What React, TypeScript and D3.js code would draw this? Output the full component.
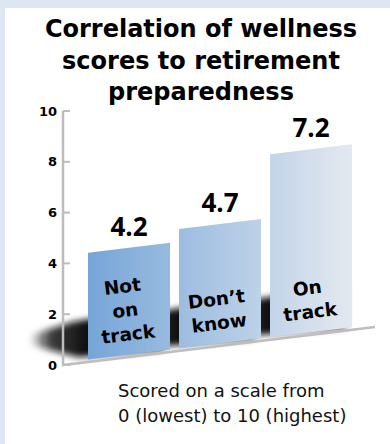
import React from "react";
import * as d3 from "d3";

const titleLines = ["Correlation of wellness", "scores to retirement", "preparedness"];
const categories = ["Not on track", "Don't know", "On track"];
const categoryLines = [["Not", "on", "track"], ["Don\u2019t", "know"], ["On", "track"]];
const values = [4.2, 4.7, 7.2];
const valueLabels = ["4.2", "4.7", "7.2"];
const yTicks = [0, 2, 4, 6, 8, 10];
const footnoteLines = ["Scored on a scale from", "0 (lowest) to 10 (highest)"];

const W = 390;
const H = 444;
const axisX = 63;
const axisY0 = 365;
const axisEndX = 375;
const slope = -0.122;

export default function App() {
  const y = d3.scaleLinear().domain([0, 10]).range([axisY0, 111]);
  const hgt = (v: number) => axisY0 - y(v);
  const x = d3.scaleBand<string>().domain(categories).range([88, 352]).paddingInner(0.0989).paddingOuter(0);
  const base = (px: number) => axisY0 + slope * (px - axisX);
  const barBase = (px: number) => base(px) - 2.5;
  const bw = x.bandwidth();
  const color = d3.interpolateRgb("#76a5d8", "#e4e9f0");

  return (
    <svg width={W} height={H} style={{ position: "absolute", left: 0, top: 0 }}>
      <defs>
        <linearGradient id="barGrad" gradientUnits="userSpaceOnUse" x1={88} x2={352} y1={0} y2={0}>
          {[0, 0.25, 0.5, 0.75, 1].map((t) => (
            <stop key={t} offset={t} stopColor={color(t)} />
          ))}
        </linearGradient>
        {categories.map((c, i) => {
          const x0 = x(c)!;
          return (
            <linearGradient key={c} id={`shGrad${i}`} gradientUnits="userSpaceOnUse" x1={x0 - 58} x2={x0} y1={0} y2={0}>
              <stop offset={0} stopColor="#000" stopOpacity={0} />
              <stop offset={0.35} stopColor="#111" stopOpacity={0.8} />
              <stop offset={1} stopColor="#111" stopOpacity={1} />
            </linearGradient>
          );
        })}
        <filter id="blur" x="-50%" y="-50%" width="200%" height="200%">
          <feGaussianBlur stdDeviation={3} />
        </filter>
        <clipPath id="panelClip">
          <rect x={5} y={8} width={W - 5} height={H - 8} />
        </clipPath>
      </defs>
      <rect x={0} y={0} width={W} height={H} fill="#dde7f2" />
      <rect x={5} y={8} width={W - 5} height={H - 8} fill="#ffffff" />

      {/* title */}
      {titleLines.map((t, i) => (
        <text key={t} x={201} y={37 + i * 31.5} textAnchor="middle" fontFamily="'DejaVu Sans'" fontWeight={700} fontSize={24} fill="#000">
          {t}
        </text>
      ))}

      <g clipPath="url(#panelClip)">
        {/* shadows */}
        {categories.map((c, i) => {
          const x0 = x(c)!;
          const x1 = x0 + bw;
          const pts: [number, number][] = [
            [x1 - 6, base(x1 - 6) - 3],
            [x1 - 6, base(x1 - 6) - 46],
            [x0 - 15, base(x0 - 15) - 42],
            [x0 - 58, base(x0 - 58) - 34],
            [x0 - 58, base(x0 - 58) - 24],
            [x0 - 10, base(x0 - 10) - 6],
          ];
          return (
            <polygon key={c} points={pts.map((p) => p.join(",")).join(" ")} fill={`url(#shGrad${i})`} filter="url(#blur)" />
          );
        })}
      </g>

      {/* axis */}
      <path
        d={`M${axisX},${y(10)}V${axisY0}L${axisEndX},${base(axisEndX)}`}
        fill="none"
        stroke="#bdbdbd"
        strokeWidth={2.5}
      />
      {yTicks.map((t) => (
        <g key={t}>
          <line x1={axisX} x2={axisX + 7} y1={y(t)} y2={y(t)} stroke="#bdbdbd" strokeWidth={2} />
          <text x={57} y={y(t)} dy="0.35em" textAnchor="end" fontFamily="'DejaVu Sans'" fontWeight={700} fontSize={13} fill="#000">
            {t}
          </text>
        </g>
      ))}

      {/* bars */}
      {categories.map((c, i) => {
        const x0 = x(c)!;
        const x1 = x0 + bw;
        const h = hgt(values[i]);
        const pts: [number, number][] = [
          [x0, barBase(x0)],
          [x1, barBase(x1)],
          [x1, barBase(x1) - h],
          [x0, barBase(x0) - h],
        ];
        const xc = x0 + bw / 2;
        const lines = categoryLines[i];
        const lastY = barBase(xc) - 14;
        return (
          <g key={c}>
            <polygon points={pts.map((p) => p.join(",")).join(" ")} fill="url(#barGrad)" />
            <text x={xc} y={barBase(xc) - h - 12} textAnchor="middle" fontFamily="'Open Sans'" fontWeight={700} fontSize={26} fill="#000">
              {valueLabels[i]}
            </text>
            <g transform={`rotate(-7,${xc},${lastY})`}>
              {lines.map((l, j) => (
                <text
                  key={j}
                  x={xc}
                  y={lastY - (lines.length - 1 - j) * 24}
                  textAnchor="middle"
                  fontFamily="'DejaVu Sans'"
                  fontWeight={700}
                  fontSize={18.5}
                  fill="#000"
                >
                  {l}
                </text>
              ))}
            </g>
          </g>
        );
      })}

      {/* footnote */}
      {footnoteLines.map((t, i) => (
        <text key={t} x={118} y={397 + i * 25} fontFamily="'DejaVu Sans'" fontSize={18} fill="#111">
          {t}
        </text>
      ))}
    </svg>
  );
}
